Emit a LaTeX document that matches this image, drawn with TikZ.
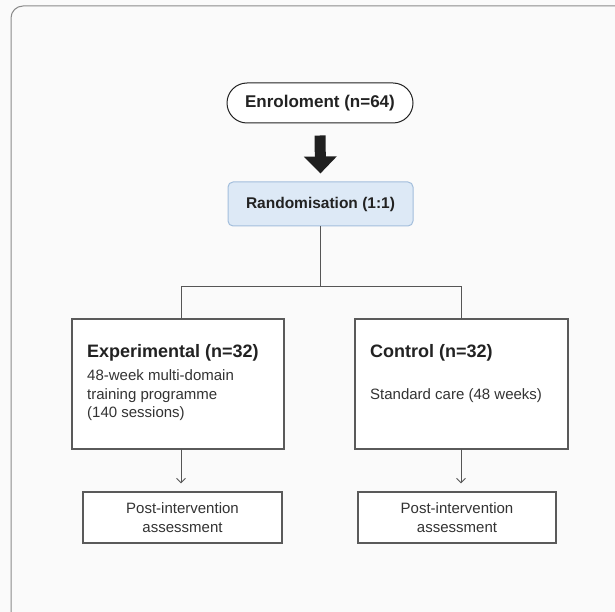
\documentclass[tikz,border=0pt]{standalone}
\usepackage{fontspec}
\setmainfont{Liberation Sans}
\usetikzlibrary{arrows.meta}
\definecolor{bgc}{HTML}{FAFAFA}
\definecolor{framec}{HTML}{8A8A8A}
\definecolor{linec}{HTML}{555555}
\definecolor{boxc}{HTML}{5A5A5A}
\definecolor{txtc}{HTML}{222222}
\definecolor{txtb}{HTML}{333333}
\definecolor{randfill}{HTML}{DDE9F6}
\definecolor{randdraw}{HTML}{A3BEDC}
\tikzset{
  boxstyle/.style={draw=boxc, line width=1.1pt, fill=white, inner sep=0pt},
  conn/.style={draw=linec, line width=1pt},
  smallarrow/.style={conn, -{Straight Barb[length=4.5pt,width=9pt,line width=0.9pt]}},
  boldtxt/.style={font=\fontsize{18}{22}\selectfont\bfseries, text=txtc, inner sep=0pt},
  normtxt/.style={font=\fontsize{15}{18.5}\selectfont, text=txtb, inner sep=0pt}
}
\begin{document}
\begin{tikzpicture}[x=1pt,y=-1pt]
\useasboundingbox (0,0) rectangle (615,612);
\fill[bgc] (0,0) rectangle (615,612);
% outer frame
\draw[framec, line width=1pt, rounded corners=12pt] (11,612) -- (11,6) -- (615,6);

% enrolment
\node[draw=txtc, line width=1pt, fill=white, rounded corners=20pt, minimum width=186pt, minimum height=40pt,
      font=\fontsize{17}{20}\selectfont\bfseries, text=txtc] (enrol) at (320,103) {Enroloment (n=64)};
% randomisation
\node[draw=randdraw, line width=1pt, fill=randfill, rounded corners=5pt, minimum width=185pt, minimum height=44pt,
      font=\fontsize{15.5}{19}\selectfont\bfseries, text=txtc] (rand) at (320.5,204) {Randomisation (1:1)};
% thick arrow
\draw[line width=11pt, color=black!88, shorten <=12pt, shorten >=8pt,
      -{Triangle[length=17pt,width=32pt]}] (enrol.south) -- (rand.north);

% arm boxes
\node[boxstyle, minimum width=212pt, minimum height=130pt] (exp) at (178,384) {};
\node[boxstyle, minimum width=213pt, minimum height=130pt] (ctl) at (461.5,384) {};
\coordinate (expin) at (181,319);
\coordinate (ctlin) at (461,319);
\coordinate (expout) at (181,449);
\coordinate (ctlout) at (461,449);

\draw[conn] (rand.south) -- (320.5,286) coordinate (split);
\draw[conn] (split) -| (expin);
\draw[conn] (split) -| (ctlin);

% texts
\node[boldtxt, anchor=base west] (exptitle) at (87,357) {Experimental (n=32)};
\node[normtxt, anchor=base west] (expl1) at (87,380) {48-week multi-domain};
\node[normtxt, anchor=base west] (expl2) at (87,399) {training programme};
\node[normtxt, anchor=base west] (expl3) at (87,417) {(140 sessions)};
\node[boldtxt, anchor=base west] (ctltitle) at (370,357) {Control (n=32)};
\node[normtxt, anchor=base west] (ctll1) at (370,399) {Standard care (48 weeks)};

% post boxes
\node[boxstyle, minimum width=199pt, minimum height=51pt, align=center, normtxt, text=txtb] (post1) at (182.5,517.5) {Post-intervention\\assessment};
\node[boxstyle, minimum width=198pt, minimum height=51pt, align=center, normtxt, text=txtb] (post2) at (457,517.5) {Post-intervention\\assessment};

\draw[smallarrow, shorten >=8pt] (expout) -- (expout |- post1.north);
\draw[smallarrow, shorten >=8pt] (ctlout) -- (ctlout |- post2.north);
\end{tikzpicture}
\end{document}
